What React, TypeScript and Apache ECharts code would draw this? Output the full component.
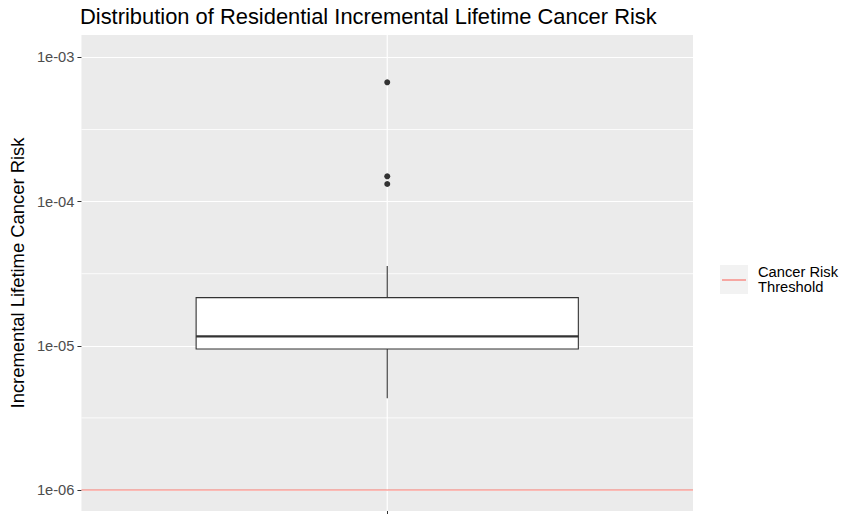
import React, { useEffect, useRef } from 'react';
import * as echarts from 'echarts';

const categories = [''];
// [lower whisker, Q1, median, Q3, upper whisker]
const boxValues = [4.32e-6, 9.5e-6, 1.164e-5, 2.157e-5, 3.576e-5];
const outliers = [6.72e-4, 1.498e-4, 1.324e-4];
const threshold = 1e-6;
const yTicks = [1e-6, 1e-5, 1e-4, 1e-3];
const yTickLabels = ['1e-06', '1e-05', '1e-04', '1e-03'];
const yMinorBreaks = [3.162e-6, 3.162e-5, 3.162e-4];
const yMin = 7.15e-7;
const yMax = 1.43e-3;

const FONT = '"Liberation Sans", Arial, sans-serif';
const legendIcon =
  'image://data:image/svg+xml;utf8,' +
  encodeURIComponent(
    '<svg xmlns="http://www.w3.org/2000/svg" width="28" height="29"><rect width="28" height="29" fill="#F2F2F2"/><line x1="2" y1="15" x2="26" y2="15" stroke="#F8766D" stroke-width="1.2"/></svg>'
  );

export default function App() {
  const ref = useRef<HTMLDivElement>(null);
  useEffect(() => {
    const chart = echarts.init(ref.current!, null, { renderer: 'svg' });
    const hLine = (name: string, v: number, color: string, width: number, z: number) => ({
      type: 'line',
      name,
      xAxisIndex: 1,
      data: [
        [0, v],
        [1, v],
      ],
      symbol: 'none',
      silent: true,
      z,
      itemStyle: { color },
      lineStyle: { color, width },
    });
    chart.setOption({
      animation: false,
      backgroundColor: '#FFFFFF',
      title: {
        text: 'Distribution of Residential Incremental Lifetime Cancer Risk',
        left: 80,
        top: 5,
        padding: 0,
        textStyle: { fontFamily: FONT, fontSize: 21.9, fontWeight: 'normal', color: '#000000' },
      },
      legend: {
        orient: 'vertical',
        left: 720,
        top: 263,
        padding: 0,
        itemWidth: 28,
        itemHeight: 29,
        data: [{ name: 'Cancer Risk Threshold', icon: legendIcon }],
        formatter: () => 'Cancer Risk\nThreshold',
        textStyle: { fontFamily: FONT, fontSize: 14.7, color: '#000000', lineHeight: 15, padding: [3, 0, 0, 5] },
        selectedMode: false,
      },
      grid: {
        left: 80,
        top: 35,
        width: 613,
        height: 476,
        show: true,
        backgroundColor: '#EBEBEB',
        borderWidth: 0,
      },
      xAxis: [
        {
          type: 'category',
          data: categories,
          axisLine: { show: false },
          axisTick: { show: true, alignWithLabel: true, length: 4, lineStyle: { color: '#333333' } },
          axisLabel: { show: false },
          splitLine: { show: false },
        },
        { type: 'value', min: 0, max: 1, show: false, splitLine: { show: false } },
      ],
      yAxis: {
        type: 'log',
        logBase: 10,
        min: yMin,
        max: yMax,
        name: 'Incremental Lifetime Cancer Risk',
        nameLocation: 'middle',
        nameRotate: 90,
        nameGap: 54,
        nameTextStyle: { fontFamily: FONT, fontSize: 18.4, color: '#000000' },
        axisLine: { show: false },
        axisTick: { show: true, length: 4, lineStyle: { color: '#333333' }, customValues: yTicks },
        axisLabel: {
          customValues: yTicks,
          margin: 7,
          fontFamily: FONT,
          fontSize: 14.7,
          color: '#4D4D4D',
          formatter: (v: number) => {
            let best = '';
            let bd = Infinity;
            yTicks.forEach((t, i) => {
              const d = Math.abs(Math.log10(v) - Math.log10(t));
              if (d < bd) { bd = d; best = yTickLabels[i]; }
            });
            return bd < 0.01 ? best : '';
          },
        },
        splitLine: { show: true, lineStyle: { color: '#FFFFFF', width: 1.2 } },
      },
      series: [
        ...yMinorBreaks.map((v, i) => hLine('minor' + i, v, '#FFFFFF', 0.8, 1)),
        {
          type: 'line',
          name: 'vgrid',
          xAxisIndex: 1,
          data: [
            [0.5, yMin],
            [0.5, yMax],
          ],
          symbol: 'none',
          silent: true,
          z: 1,
          lineStyle: { color: '#FFFFFF', width: 1.2 },
        },
        {
          type: 'custom',
          name: 'box',
          z: 3,
          data: [[0, ...boxValues]],
          encode: { x: 0, y: [1, 2, 3, 4, 5] },
          renderItem: (params: any, api: any) => {
            const x = api.value(0);
            const pLow = api.coord([x, api.value(1)]);
            const pQ1 = api.coord([x, api.value(2)]);
            const pMed = api.coord([x, api.value(3)]);
            const pQ3 = api.coord([x, api.value(4)]);
            const pHigh = api.coord([x, api.value(5)]);
            const bw = api.size([1, 0])[0] * 0.625;
            const cx = pMed[0];
            const stroke = '#333333';
            return {
              type: 'group',
              children: [
                { type: 'line', shape: { x1: cx, y1: pQ3[1], x2: cx, y2: pHigh[1] }, style: { stroke, lineWidth: 1.1 } },
                { type: 'line', shape: { x1: cx, y1: pQ1[1], x2: cx, y2: pLow[1] }, style: { stroke, lineWidth: 1.1 } },
                {
                  type: 'rect',
                  shape: { x: cx - bw / 2, y: pQ3[1], width: bw, height: pQ1[1] - pQ3[1] },
                  style: { fill: '#FFFFFF', stroke, lineWidth: 1.1 },
                },
                { type: 'line', shape: { x1: cx - bw / 2, y1: pMed[1], x2: cx + bw / 2, y2: pMed[1] }, style: { stroke, lineWidth: 2.2 } },
              ],
            };
          },
        },
        {
          type: 'scatter',
          name: 'outliers',
          z: 4,
          symbol: 'circle',
          symbolSize: 6,
          itemStyle: { color: '#333333', opacity: 1 },
          data: outliers.map((v) => [0, v]),
        },
        hLine('Cancer Risk Threshold', threshold, '#F8766D', 1.1, 5),
      ],
    });
    return () => chart.dispose();
  }, []);
  return <div ref={ref} style={{ width: 844, height: 514, position: 'absolute', left: 0, top: 0 }} />;
}
